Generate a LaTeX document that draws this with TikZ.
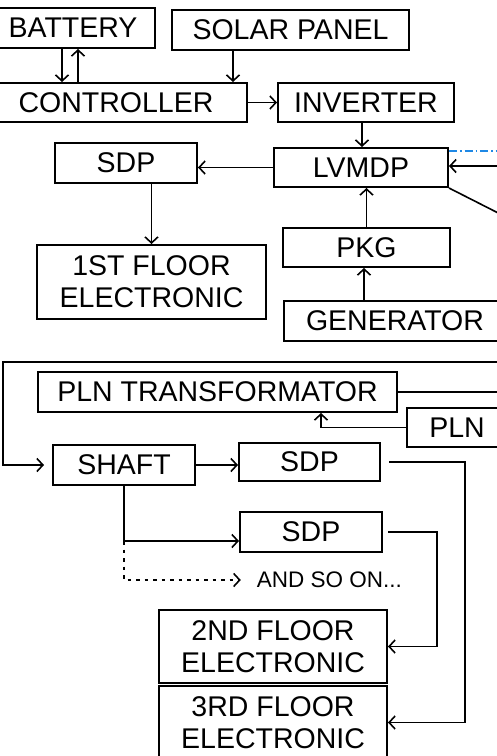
\documentclass[tikz,border=0pt]{standalone}
\usepackage{fontspec}
\setmainfont{Liberation Sans}
\usetikzlibrary{arrows.meta}
\definecolor{linkblue}{RGB}{30,136,229}
\begin{document}
\begin{tikzpicture}[
  x=1pt, y=-1pt,
  >={Straight Barb[length=6pt,width=13pt]},
  box/.style={draw, line width=2pt, inner sep=0pt, align=center,
    font=\fontsize{28.5}{32}\selectfont},
  wire/.style={line width=1.6pt},
  spare/.style={wire, dash pattern=on 3.5pt off 5pt},
  feed/.style={linkblue, line width=1.7pt, dash pattern=on 8pt off 3pt on 1.5pt off 3pt}
]
  \clip (0,0) rectangle (497,756);

  % solar side
  \node[box, minimum width=164pt, minimum height=40pt] (bat)   at (73,28)     {BATTERY};
  \node[box, minimum width=237pt, minimum height=40pt] (solar) at (290.5,30)  {SOLAR PANEL};
  \node[box, minimum width=262pt, minimum height=39pt] (ctrl)  at (116,102.5) {CONTROLLER};
  \node[box, minimum width=176pt, minimum height=39pt] (inv)   at (366,102.5) {INVERTER};
  \node[box, minimum width=174pt, minimum height=39pt] (lvmdp) at (361,167.5) {LVMDP};
  \node[box, minimum width=142pt, minimum height=40pt] (sdpa)  at (126,163)   {SDP};
  \node[box, minimum width=167pt, minimum height=39pt] (pkg)   at (366.5,247.5) {PKG};
  \node[box, minimum width=229pt, minimum height=74pt] (floora) at (151.5,282) {1ST FLOOR\\ELECTRONIC};
  \node[box, minimum width=222pt, minimum height=40pt] (gen)   at (395,321)   {GENERATOR};

  % grid side
  \node[box, minimum width=359pt, minimum height=40pt] (trafo) at (217.5,392) {PLN TRANSFORMATOR};
  \node[box, minimum width=100pt, minimum height=39pt] (pln)   at (457,427.5) {PLN};
  \node[box, minimum width=142pt, minimum height=40pt] (shaft) at (124,465)   {SHAFT};
  \node[box, minimum width=141pt, minimum height=38pt] (sdpb)  at (309.5,462) {SDP};
  \node[box, minimum width=142pt, minimum height=40pt] (sdpc)  at (311,532)   {SDP};
  \node[inner sep=0pt, font=\fontsize{22.5}{26}\selectfont] (more) at (329.5,580) {AND SO ON...};
  \node[box, minimum width=228pt, minimum height=73pt] (floorb) at (273,646.5) {2ND FLOOR\\ELECTRONIC};
  \node[box, minimum width=228pt, minimum height=73pt] (floorc) at (273,722.5) {3RD FLOOR\\ELECTRONIC};

  % helper points
  \coordinate (b1) at (62,0);
  \coordinate (b2) at (78,0);
  \coordinate (s1) at (233,0);
  \coordinate (v1) at (362,0);
  \coordinate (v2) at (364,0);
  \coordinate (e1) at (510,151);
  \coordinate (e2) at (510,166);
  \coordinate (e3) at (510,219);
  \coordinate (e4) at (510,362);
  \coordinate (l1) at (3,362);
  \coordinate (t1) at (321,0);
  \coordinate (r1) at (465,0);
  \coordinate (r2) at (437,0);
  \coordinate (j1) at (124,541);
  \coordinate (j2) at (124,580);

  \draw[wire, ->] (bat.south -| b1) -- (ctrl.north -| b1);
  \draw[wire, ->] (ctrl.north -| b2) -- (bat.south -| b2);
  \draw[wire, ->] (solar.south -| s1) -- (ctrl.north -| s1);
  \draw[wire, ->] (ctrl) -- (inv);
  \draw[wire, ->] (inv.south -| v1) -- (lvmdp.north -| v1);
  \draw[wire, ->] (lvmdp.west) -- (lvmdp.west -| sdpa.east);
  \draw[wire, ->] (floora.north |- sdpa.south) -- (floora.north);
  \draw[wire, ->] (pkg.north) -- (pkg.north |- lvmdp.south);
  \draw[wire, ->] (gen.north -| v2) -- (pkg.south -| v2);
  \draw[feed] (lvmdp.east |- e1) -- (e1);
  \draw[wire, ->] (e2) -- (lvmdp.east |- e2);
  \draw[wire] (lvmdp.south east) -- (e3);

  \draw[wire, ->, shorten >=8pt] (e4) -- (l1) |- (shaft.west);
  \draw[wire] (trafo.east) -- (trafo.east -| e4);
  \draw[wire, ->] (pln.west) -| (trafo.south -| t1);
  \draw[wire, ->] (shaft.east) -- (shaft.east -| sdpb.west);
  \draw[wire, ->] (shaft.south) -- (j1) -- (j1 -| sdpc.west);
  \draw[spare, ->, shorten >=16pt] (j1) -- (j2) -- (more.west);
  \draw[wire, ->, shorten <=8pt] (sdpb.east) -| (floorc.east -| r1) -- (floorc.east);
  \draw[wire, ->, shorten <=5pt] (sdpc.east) -| (floorb.east -| r2) -- (floorb.east);
\end{tikzpicture}
\end{document}
